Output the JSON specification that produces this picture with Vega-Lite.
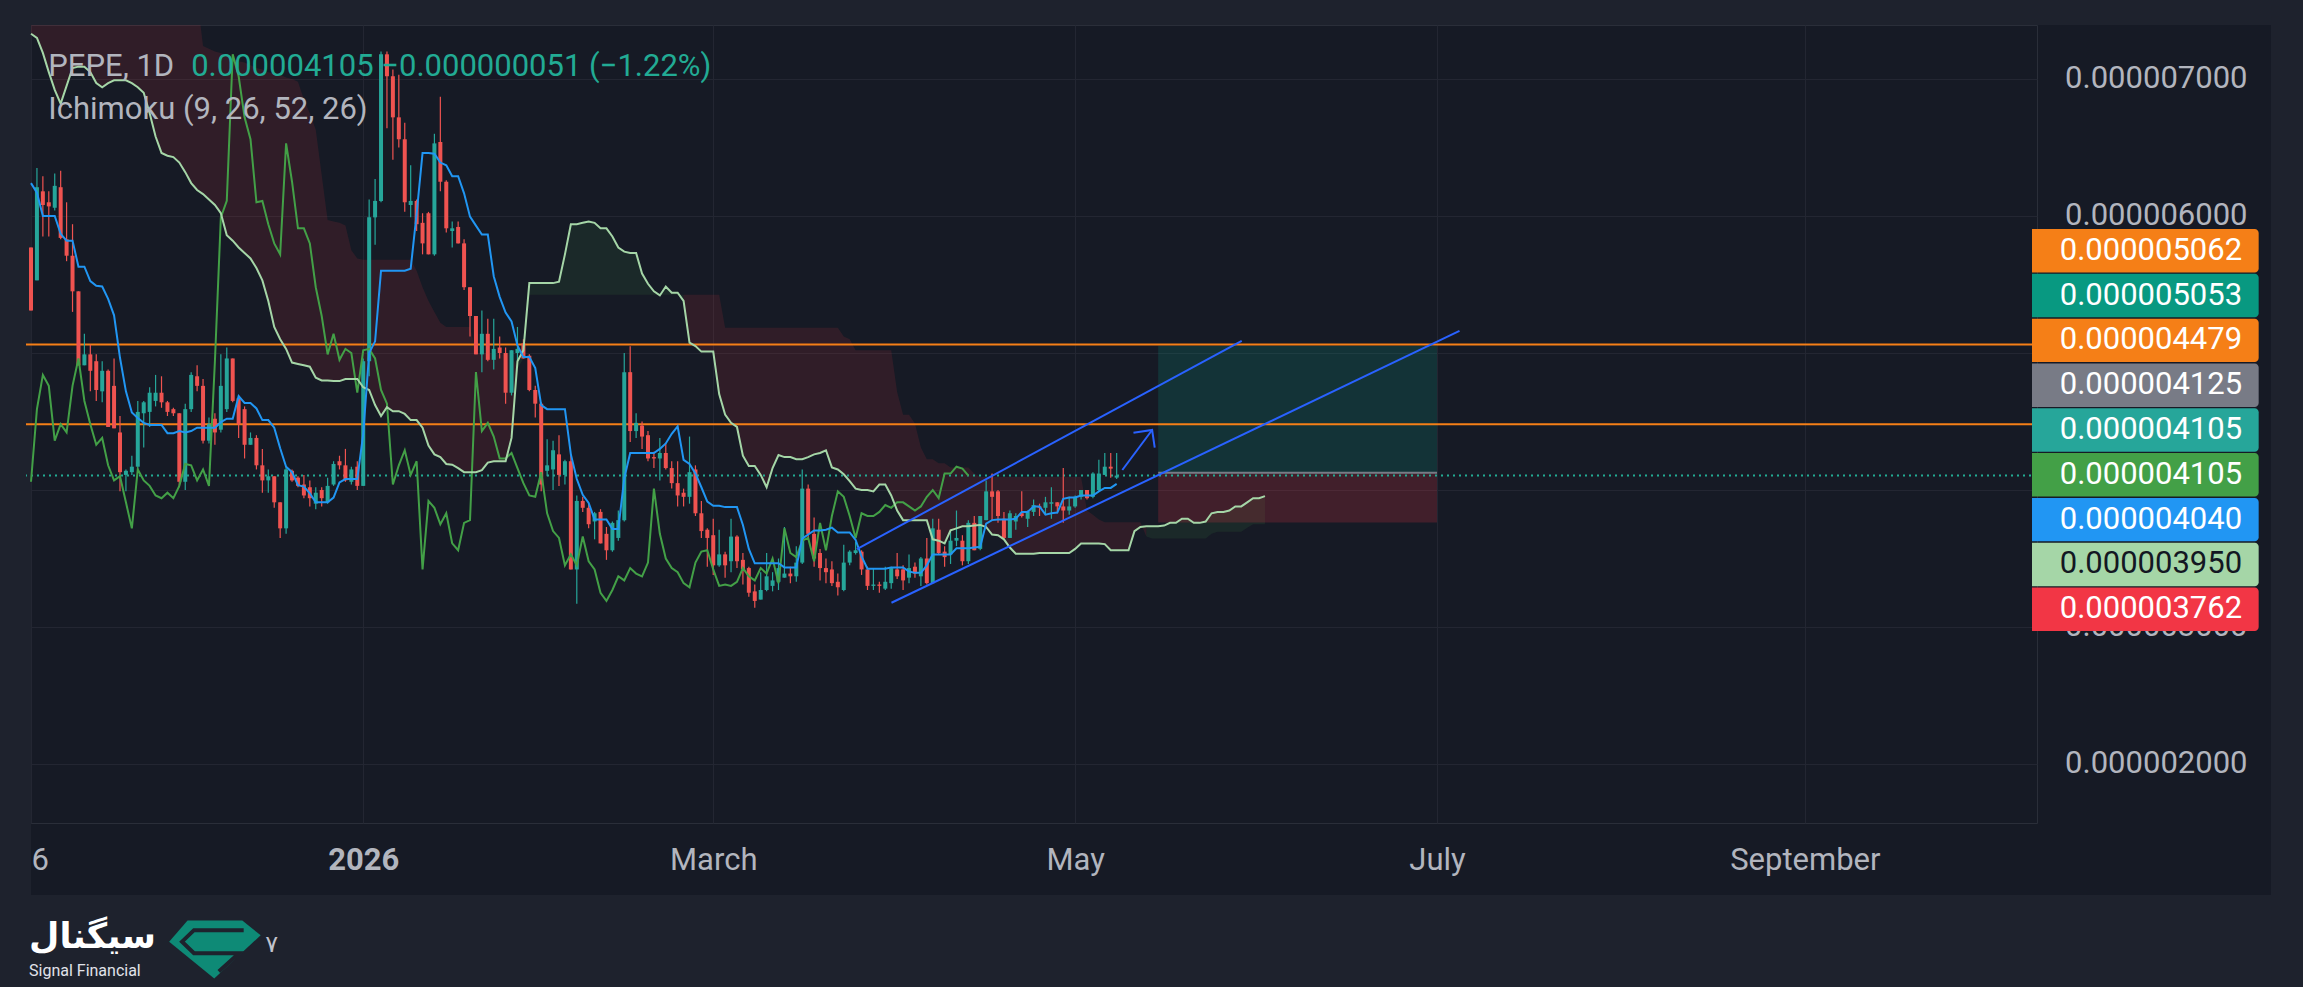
{
  "$schema": "https://vega.github.io/schema/vega-lite/v6.json",
  "width": 2011,
  "height": 798,
  "autosize": {"type": "none"},
  "padding": {"left": 26, "top": 25, "right": 266, "bottom": 164},
  "background": "#161a25",
  "config": {
    "view": {"fill": "#161a25", "stroke": "#2a2e39"},
    "font": "Roboto",
    "text": {"font": "Roboto"}
  },
  "datasets": {
    "bars": [
      {"t":"2025-11-06","o":5.77e-6,"h":5.77e-6,"l":5.31e-6,"c":5.31e-6,"k":6.24e-6,"g":4.06e-6},
      {"t":"2025-11-07","o":5.53e-6,"h":6.35e-6,"l":5.53e-6,"c":6.21e-6,"k":6.17e-6,"g":4.59e-6},
      {"t":"2025-11-08","o":6.18e-6,"h":6.29e-6,"l":5.85e-6,"c":6.08e-6,"k":6.0e-6,"g":4.84e-6},
      {"t":"2025-11-09","o":6.1e-6,"h":6.18e-6,"l":5.85e-6,"c":6.07e-6,"k":6.0e-6,"g":4.76e-6},
      {"t":"2025-11-10","o":6.06e-6,"h":6.31e-6,"l":6.04e-6,"c":6.22e-6,"k":6.0e-6,"g":4.36e-6},
      {"t":"2025-11-11","o":6.21e-6,"h":6.33e-6,"l":5.83e-6,"c":5.84e-6,"k":5.87e-6,"g":4.48e-6},
      {"t":"2025-11-12","o":5.83e-6,"h":6.1e-6,"l":5.67e-6,"c":5.71e-6,"k":5.82e-6,"g":4.42e-6},
      {"t":"2025-11-13","o":5.71e-6,"h":5.94e-6,"l":5.3e-6,"c":5.45e-6,"k":5.82e-6,"g":4.76e-6},
      {"t":"2025-11-14","o":5.45e-6,"h":5.45e-6,"l":4.91e-6,"c":4.91e-6,"k":5.63e-6,"g":4.96e-6},
      {"t":"2025-11-15","o":4.91e-6,"h":5.14e-6,"l":4.91e-6,"c":4.99e-6,"k":5.63e-6,"g":4.65e-6},
      {"t":"2025-11-16","o":4.99e-6,"h":5.06e-6,"l":4.72e-6,"c":4.87e-6,"k":5.525e-6,"g":4.48e-6},
      {"t":"2025-11-17","o":4.94e-6,"h":4.99e-6,"l":4.65e-6,"c":4.73e-6,"k":5.49e-6,"g":4.33e-6},
      {"t":"2025-11-18","o":4.72e-6,"h":4.94e-6,"l":4.64e-6,"c":4.87e-6,"k":5.485e-6,"g":4.38e-6},
      {"t":"2025-11-19","o":4.87e-6,"h":4.88e-6,"l":4.46e-6,"c":4.46e-6,"k":5.395e-6,"g":4.18e-6},
      {"t":"2025-11-20","o":4.76e-6,"h":4.96e-6,"l":4.45e-6,"c":4.45e-6,"k":5.275e-6,"g":4.07e-6},
      {"t":"2025-11-21","o":4.42e-6,"h":4.54e-6,"l":3.99e-6,"c":4.13e-6,"k":4.965e-6,"g":4.1e-6},
      {"t":"2025-11-22","o":4.11e-6,"h":4.15e-6,"l":3.99e-6,"c":4.14e-6,"k":4.72e-6,"g":3.91e-6},
      {"t":"2025-11-23","o":4.13e-6,"h":4.25e-6,"l":4.11e-6,"c":4.17e-6,"k":4.565e-6,"g":3.72e-6},
      {"t":"2025-11-24","o":4.17e-6,"h":4.65e-6,"l":4.15e-6,"c":4.57e-6,"k":4.525e-6,"g":4.15e-6},
      {"t":"2025-11-25","o":4.56e-6,"h":4.65e-6,"l":4.31e-6,"c":4.64e-6,"k":4.49e-6,"g":4.07e-6},
      {"t":"2025-11-26","o":4.57e-6,"h":4.75e-6,"l":4.46e-6,"c":4.71e-6,"k":4.475e-6,"g":4.03e-6},
      {"t":"2025-11-27","o":4.65e-6,"h":4.84e-6,"l":4.61e-6,"c":4.71e-6,"k":4.475e-6,"g":3.96e-6},
      {"t":"2025-11-28","o":4.71e-6,"h":4.83e-6,"l":4.6e-6,"c":4.64e-6,"k":4.475e-6,"g":3.94e-6},
      {"t":"2025-11-29","o":4.64e-6,"h":4.65e-6,"l":4.54e-6,"c":4.57e-6,"k":4.415e-6,"g":3.98e-6},
      {"t":"2025-11-30","o":4.59e-6,"h":4.6e-6,"l":4.54e-6,"c":4.56e-6,"k":4.415e-6,"g":3.94e-6},
      {"t":"2025-12-01","o":4.56e-6,"h":4.56e-6,"l":4.02e-6,"c":4.06e-6,"k":4.43e-6,"g":4.03e-6},
      {"t":"2025-12-02","o":4.06e-6,"h":4.63e-6,"l":4.0e-6,"c":4.59e-6,"k":4.42e-6,"g":4.19e-6},
      {"t":"2025-12-03","o":4.59e-6,"h":4.86e-6,"l":4.57e-6,"c":4.84e-6,"k":4.43e-6,"g":4.18e-6},
      {"t":"2025-12-04","o":4.83e-6,"h":4.91e-6,"l":4.72e-6,"c":4.76e-6,"k":4.455e-6,"g":4.07e-6},
      {"t":"2025-12-05","o":4.76e-6,"h":4.81e-6,"l":4.34e-6,"c":4.36e-6,"k":4.455e-6,"g":4.15e-6},
      {"t":"2025-12-06","o":4.36e-6,"h":4.53e-6,"l":4.34e-6,"c":4.48e-6,"k":4.455e-6,"g":4.03e-6},
      {"t":"2025-12-07","o":4.52e-6,"h":4.56e-6,"l":4.33e-6,"c":4.42e-6,"k":4.455e-6,"g":4.94e-6},
      {"t":"2025-12-08","o":4.44e-6,"h":4.99e-6,"l":4.42e-6,"c":4.76e-6,"k":4.495e-6,"g":5.99e-6},
      {"t":"2025-12-09","o":4.59e-6,"h":5.04e-6,"l":4.57e-6,"c":4.96e-6,"k":4.52e-6,"g":6.11e-6},
      {"t":"2025-12-10","o":4.96e-6,"h":4.96e-6,"l":4.64e-6,"c":4.65e-6,"k":4.52e-6,"g":7.18e-6},
      {"t":"2025-12-11","o":4.67e-6,"h":4.69e-6,"l":4.38e-6,"c":4.48e-6,"k":4.685e-6,"g":7.02e-6},
      {"t":"2025-12-12","o":4.59e-6,"h":4.61e-6,"l":4.23e-6,"c":4.33e-6,"k":4.635e-6,"g":6.72e-6},
      {"t":"2025-12-13","o":4.33e-6,"h":4.42e-6,"l":4.33e-6,"c":4.38e-6,"k":4.635e-6,"g":6.56e-6},
      {"t":"2025-12-14","o":4.38e-6,"h":4.4e-6,"l":4.15e-6,"c":4.18e-6,"k":4.595e-6,"g":6.1e-6},
      {"t":"2025-12-15","o":4.18e-6,"h":4.3e-6,"l":3.98e-6,"c":4.07e-6,"k":4.51e-6,"g":6.11e-6},
      {"t":"2025-12-16","o":4.07e-6,"h":4.15e-6,"l":3.98e-6,"c":4.1e-6,"k":4.51e-6,"g":5.94e-6},
      {"t":"2025-12-17","o":4.1e-6,"h":4.1e-6,"l":3.87e-6,"c":3.91e-6,"k":4.455e-6,"g":5.8e-6},
      {"t":"2025-12-18","o":3.91e-6,"h":3.91e-6,"l":3.65e-6,"c":3.72e-6,"k":4.305e-6,"g":5.72e-6},
      {"t":"2025-12-19","o":3.72e-6,"h":4.17e-6,"l":3.68e-6,"c":4.15e-6,"k":4.17e-6,"g":6.53e-6},
      {"t":"2025-12-20","o":4.14e-6,"h":4.15e-6,"l":4.06e-6,"c":4.07e-6,"k":4.13e-6,"g":6.25e-6},
      {"t":"2025-12-21","o":4.09e-6,"h":4.1e-6,"l":4.02e-6,"c":4.03e-6,"k":4.035e-6,"g":5.91e-6},
      {"t":"2025-12-22","o":4.04e-6,"h":4.11e-6,"l":3.94e-6,"c":3.96e-6,"k":4.025e-6,"g":5.91e-6},
      {"t":"2025-12-23","o":4.02e-6,"h":4.07e-6,"l":3.88e-6,"c":3.94e-6,"k":3.975e-6,"g":5.8e-6},
      {"t":"2025-12-24","o":3.9e-6,"h":4.02e-6,"l":3.86e-6,"c":3.98e-6,"k":3.91e-6,"g":5.48e-6},
      {"t":"2025-12-25","o":4.0e-6,"h":4.02e-6,"l":3.88e-6,"c":3.94e-6,"k":3.91e-6,"g":5.27e-6},
      {"t":"2025-12-26","o":3.91e-6,"h":4.09e-6,"l":3.9e-6,"c":4.03e-6,"k":3.91e-6,"g":4.99e-6},
      {"t":"2025-12-27","o":4.04e-6,"h":4.21e-6,"l":4.03e-6,"c":4.19e-6,"k":3.945e-6,"g":5.14e-6},
      {"t":"2025-12-28","o":4.21e-6,"h":4.25e-6,"l":4.15e-6,"c":4.18e-6,"k":4.055e-6,"g":4.95e-6},
      {"t":"2025-12-29","o":4.18e-6,"h":4.3e-6,"l":4.06e-6,"c":4.07e-6,"k":4.08e-6,"g":5.03e-6},
      {"t":"2025-12-30","o":4.06e-6,"h":4.17e-6,"l":4.04e-6,"c":4.15e-6,"k":4.08e-6,"g":5.0e-6},
      {"t":"2025-12-31","o":4.17e-6,"h":4.21e-6,"l":4.0e-6,"c":4.03e-6,"k":4.08e-6,"g":4.71e-6},
      {"t":"2026-01-01","o":4.03e-6,"h":4.96e-6,"l":4.03e-6,"c":4.94e-6,"k":4.41e-6,"g":5.02e-6},
      {"t":"2026-01-02","o":4.94e-6,"h":6.12e-6,"l":4.83e-6,"c":5.99e-6,"k":5.0e-6,"g":5.03e-6},
      {"t":"2026-01-03","o":5.99e-6,"h":6.27e-6,"l":5.79e-6,"c":6.11e-6,"k":5.085e-6,"g":4.96e-6},
      {"t":"2026-01-04","o":6.11e-6,"h":7.2e-6,"l":6.1e-6,"c":7.18e-6,"k":5.6e-6,"g":4.73e-6},
      {"t":"2026-01-05","o":7.18e-6,"h":7.2e-6,"l":6.64e-6,"c":7.02e-6,"k":5.6e-6,"g":4.63e-6},
      {"t":"2026-01-06","o":7.02e-6,"h":7.07e-6,"l":6.41e-6,"c":6.72e-6,"k":5.6e-6,"g":4.04e-6},
      {"t":"2026-01-07","o":6.72e-6,"h":7.03e-6,"l":6.5e-6,"c":6.56e-6,"k":5.6e-6,"g":4.18e-6},
      {"t":"2026-01-08","o":6.56e-6,"h":6.68e-6,"l":6.03e-6,"c":6.1e-6,"k":5.6e-6,"g":4.29e-6},
      {"t":"2026-01-09","o":6.08e-6,"h":6.37e-6,"l":5.99e-6,"c":6.11e-6,"k":5.615e-6,"g":4.11e-6},
      {"t":"2026-01-10","o":6.11e-6,"h":6.12e-6,"l":5.89e-6,"c":5.94e-6,"k":6.015e-6,"g":4.21e-6},
      {"t":"2026-01-11","o":5.95e-6,"h":6.02e-6,"l":5.72e-6,"c":5.8e-6,"k":6.46e-6,"g":3.42e-6},
      {"t":"2026-01-12","o":6.02e-6,"h":6.03e-6,"l":5.72e-6,"c":5.72e-6,"k":6.46e-6,"g":3.92e-6},
      {"t":"2026-01-13","o":5.72e-6,"h":6.6e-6,"l":5.71e-6,"c":6.53e-6,"k":6.455e-6,"g":3.87e-6},
      {"t":"2026-01-14","o":6.54e-6,"h":6.87e-6,"l":6.18e-6,"c":6.25e-6,"k":6.39e-6,"g":3.75e-6},
      {"t":"2026-01-15","o":6.25e-6,"h":6.26e-6,"l":5.88e-6,"c":5.91e-6,"k":6.37e-6,"g":3.83e-6},
      {"t":"2026-01-16","o":5.89e-6,"h":5.96e-6,"l":5.77e-6,"c":5.91e-6,"k":6.29e-6,"g":3.61e-6},
      {"t":"2026-01-17","o":5.92e-6,"h":5.96e-6,"l":5.8e-6,"c":5.8e-6,"k":6.29e-6,"g":3.56e-6},
      {"t":"2026-01-18","o":5.8e-6,"h":5.83e-6,"l":5.46e-6,"c":5.48e-6,"k":6.165e-6,"g":3.76e-6},
      {"t":"2026-01-19","o":5.48e-6,"h":5.48e-6,"l":5.12e-6,"c":5.27e-6,"k":5.995e-6,"g":3.78e-6},
      {"t":"2026-01-20","o":5.27e-6,"h":5.27e-6,"l":4.99e-6,"c":4.99e-6,"k":5.93e-6,"g":4.86e-6},
      {"t":"2026-01-21","o":4.99e-6,"h":5.31e-6,"l":4.86e-6,"c":5.14e-6,"k":5.865e-6,"g":4.43e-6},
      {"t":"2026-01-22","o":5.14e-6,"h":5.25e-6,"l":4.94e-6,"c":4.95e-6,"k":5.865e-6,"g":4.49e-6},
      {"t":"2026-01-23","o":4.95e-6,"h":5.25e-6,"l":4.88e-6,"c":5.03e-6,"k":5.56e-6,"g":4.39e-6},
      {"t":"2026-01-24","o":5.04e-6,"h":5.12e-6,"l":4.96e-6,"c":5.0e-6,"k":5.41e-6,"g":4.23e-6},
      {"t":"2026-01-25","o":5.0e-6,"h":5.04e-6,"l":4.63e-6,"c":4.71e-6,"k":5.295e-6,"g":4.23e-6},
      {"t":"2026-01-26","o":4.71e-6,"h":5.02e-6,"l":4.69e-6,"c":5.02e-6,"k":5.23e-6,"g":4.27e-6},
      {"t":"2026-01-27","o":5.0e-6,"h":5.19e-6,"l":4.94e-6,"c":5.03e-6,"k":5.055e-6,"g":4.16e-6},
      {"t":"2026-01-28","o":5.07e-6,"h":5.1e-6,"l":4.96e-6,"c":4.96e-6,"k":4.97e-6,"g":4.05e-6},
      {"t":"2026-01-29","o":4.98e-6,"h":4.99e-6,"l":4.72e-6,"c":4.73e-6,"k":4.97e-6,"g":3.96e-6},
      {"t":"2026-01-30","o":4.73e-6,"h":4.76e-6,"l":4.53e-6,"c":4.63e-6,"k":4.89e-6,"g":3.95e-6},
      {"t":"2026-01-31","o":4.63e-6,"h":4.64e-6,"l":3.99e-6,"c":4.04e-6,"k":4.62e-6,"g":4.13e-6},
      {"t":"2026-02-01","o":4.14e-6,"h":4.37e-6,"l":4.1e-6,"c":4.18e-6,"k":4.59e-6,"g":3.83e-6},
      {"t":"2026-02-02","o":4.15e-6,"h":4.36e-6,"l":4.0e-6,"c":4.29e-6,"k":4.59e-6,"g":3.7e-6},
      {"t":"2026-02-03","o":4.26e-6,"h":4.4e-6,"l":4.03e-6,"c":4.11e-6,"k":4.59e-6,"g":3.65e-6},
      {"t":"2026-02-04","o":4.11e-6,"h":4.22e-6,"l":4.04e-6,"c":4.21e-6,"k":4.59e-6,"g":3.45e-6},
      {"t":"2026-02-05","o":4.21e-6,"h":4.26e-6,"l":3.42e-6,"c":3.42e-6,"k":4.26e-6,"g":3.53e-6},
      {"t":"2026-02-06","o":3.42e-6,"h":3.96e-6,"l":3.17e-6,"c":3.92e-6,"k":4.08e-6,"g":3.45e-6},
      {"t":"2026-02-07","o":3.92e-6,"h":3.95e-6,"l":3.84e-6,"c":3.87e-6,"k":3.965e-6,"g":3.66e-6},
      {"t":"2026-02-08","o":3.87e-6,"h":3.9e-6,"l":3.72e-6,"c":3.75e-6,"k":3.905e-6,"g":3.48e-6},
      {"t":"2026-02-09","o":3.77e-6,"h":3.84e-6,"l":3.64e-6,"c":3.83e-6,"k":3.785e-6,"g":3.42e-6},
      {"t":"2026-02-10","o":3.84e-6,"h":3.86e-6,"l":3.61e-6,"c":3.61e-6,"k":3.785e-6,"g":3.25e-6},
      {"t":"2026-02-11","o":3.68e-6,"h":3.73e-6,"l":3.49e-6,"c":3.56e-6,"k":3.785e-6,"g":3.19e-6},
      {"t":"2026-02-12","o":3.56e-6,"h":3.77e-6,"l":3.55e-6,"c":3.76e-6,"k":3.715e-6,"g":3.27e-6},
      {"t":"2026-02-13","o":3.65e-6,"h":3.85e-6,"l":3.63e-6,"c":3.78e-6,"k":3.715e-6,"g":3.37e-6},
      {"t":"2026-02-14","o":3.78e-6,"h":5.0e-6,"l":3.77e-6,"c":4.86e-6,"k":4.085e-6,"g":3.34e-6},
      {"t":"2026-02-15","o":4.86e-6,"h":5.05e-6,"l":4.35e-6,"c":4.43e-6,"k":4.27e-6,"g":3.43e-6},
      {"t":"2026-02-16","o":4.43e-6,"h":4.56e-6,"l":4.38e-6,"c":4.49e-6,"k":4.27e-6,"g":3.39e-6},
      {"t":"2026-02-17","o":4.47e-6,"h":4.5e-6,"l":4.3e-6,"c":4.39e-6,"k":4.27e-6,"g":3.37e-6},
      {"t":"2026-02-18","o":4.4e-6,"h":4.43e-6,"l":4.21e-6,"c":4.23e-6,"k":4.27e-6,"g":3.47e-6},
      {"t":"2026-02-19","o":4.24e-6,"h":4.28e-6,"l":4.16e-6,"c":4.23e-6,"k":4.27e-6,"g":4.01e-6},
      {"t":"2026-02-20","o":4.23e-6,"h":4.38e-6,"l":4.07e-6,"c":4.27e-6,"k":4.3e-6,"g":3.68e-6},
      {"t":"2026-02-21","o":4.27e-6,"h":4.34e-6,"l":4.15e-6,"c":4.16e-6,"k":4.34e-6,"g":3.5e-6},
      {"t":"2026-02-22","o":4.16e-6,"h":4.21e-6,"l":4.01e-6,"c":4.05e-6,"k":4.41e-6,"g":3.43e-6},
      {"t":"2026-02-23","o":4.05e-6,"h":4.21e-6,"l":3.88e-6,"c":3.96e-6,"k":4.465e-6,"g":3.4e-6},
      {"t":"2026-02-24","o":3.98e-6,"h":4.01e-6,"l":3.88e-6,"c":3.95e-6,"k":4.22e-6,"g":3.32e-6},
      {"t":"2026-02-25","o":3.95e-6,"h":4.39e-6,"l":3.9e-6,"c":4.13e-6,"k":4.19e-6,"g":3.29e-6},
      {"t":"2026-02-26","o":4.15e-6,"h":4.18e-6,"l":3.81e-6,"c":3.83e-6,"k":4.12e-6,"g":3.47e-6},
      {"t":"2026-02-27","o":3.83e-6,"h":3.92e-6,"l":3.65e-6,"c":3.7e-6,"k":4.02e-6,"g":3.55e-6},
      {"t":"2026-02-28","o":3.71e-6,"h":3.72e-6,"l":3.44e-6,"c":3.65e-6,"k":3.915e-6,"g":3.56e-6},
      {"t":"2026-03-01","o":3.67e-6,"h":3.79e-6,"l":3.38e-6,"c":3.45e-6,"k":3.885e-6,"g":3.42e-6},
      {"t":"2026-03-02","o":3.45e-6,"h":3.71e-6,"l":3.44e-6,"c":3.53e-6,"k":3.885e-6,"g":3.3e-6},
      {"t":"2026-03-03","o":3.53e-6,"h":3.55e-6,"l":3.36e-6,"c":3.45e-6,"k":3.875e-6,"g":3.31e-6},
      {"t":"2026-03-04","o":3.48e-6,"h":3.79e-6,"l":3.4e-6,"c":3.66e-6,"k":3.875e-6,"g":3.3e-6},
      {"t":"2026-03-05","o":3.66e-6,"h":3.67e-6,"l":3.43e-6,"c":3.48e-6,"k":3.875e-6,"g":3.33e-6},
      {"t":"2026-03-06","o":3.49e-6,"h":3.54e-6,"l":3.31e-6,"c":3.42e-6,"k":3.745e-6,"g":3.43e-6},
      {"t":"2026-03-07","o":3.43e-6,"h":3.44e-6,"l":3.22e-6,"c":3.25e-6,"k":3.57e-6,"g":3.37e-6},
      {"t":"2026-03-08","o":3.26e-6,"h":3.31e-6,"l":3.14e-6,"c":3.19e-6,"k":3.465e-6,"g":3.34e-6},
      {"t":"2026-03-09","o":3.2e-6,"h":3.4e-6,"l":3.2e-6,"c":3.27e-6,"k":3.465e-6,"g":3.43e-6},
      {"t":"2026-03-10","o":3.27e-6,"h":3.54e-6,"l":3.26e-6,"c":3.37e-6,"k":3.465e-6,"g":3.39e-6},
      {"t":"2026-03-11","o":3.3e-6,"h":3.4e-6,"l":3.26e-6,"c":3.34e-6,"k":3.465e-6,"g":3.5e-6},
      {"t":"2026-03-12","o":3.33e-6,"h":3.5e-6,"l":3.27e-6,"c":3.43e-6,"k":3.465e-6,"g":3.32e-6},
      {"t":"2026-03-13","o":3.36e-6,"h":3.73e-6,"l":3.36e-6,"c":3.39e-6,"k":3.435e-6,"g":3.72e-6},
      {"t":"2026-03-14","o":3.39e-6,"h":3.44e-6,"l":3.32e-6,"c":3.37e-6,"k":3.435e-6,"g":3.54e-6},
      {"t":"2026-03-15","o":3.37e-6,"h":3.59e-6,"l":3.33e-6,"c":3.47e-6,"k":3.435e-6,"g":3.51e-6},
      {"t":"2026-03-16","o":3.47e-6,"h":4.15e-6,"l":3.46e-6,"c":4.01e-6,"k":3.645e-6,"g":3.63e-6},
      {"t":"2026-03-17","o":4.01e-6,"h":4.04e-6,"l":3.65e-6,"c":3.68e-6,"k":3.675e-6,"g":3.65e-6},
      {"t":"2026-03-18","o":3.68e-6,"h":3.8e-6,"l":3.44e-6,"c":3.5e-6,"k":3.705e-6,"g":3.48e-6},
      {"t":"2026-03-19","o":3.54e-6,"h":3.57e-6,"l":3.34e-6,"c":3.43e-6,"k":3.705e-6,"g":3.76e-6},
      {"t":"2026-03-20","o":3.43e-6,"h":3.5e-6,"l":3.32e-6,"c":3.4e-6,"k":3.71e-6,"g":3.56e-6},
      {"t":"2026-03-21","o":3.42e-6,"h":3.48e-6,"l":3.3e-6,"c":3.32e-6,"k":3.725e-6,"g":3.81e-6},
      {"t":"2026-03-22","o":3.33e-6,"h":3.39e-6,"l":3.23e-6,"c":3.29e-6,"k":3.69e-6,"g":3.99e-6},
      {"t":"2026-03-23","o":3.27e-6,"h":3.6e-6,"l":3.26e-6,"c":3.47e-6,"k":3.69e-6,"g":3.95e-6},
      {"t":"2026-03-24","o":3.47e-6,"h":3.56e-6,"l":3.45e-6,"c":3.55e-6,"k":3.69e-6,"g":3.81e-6},
      {"t":"2026-03-25","o":3.54e-6,"h":3.62e-6,"l":3.53e-6,"c":3.56e-6,"k":3.635e-6,"g":3.65e-6},
      {"t":"2026-03-26","o":3.55e-6,"h":3.56e-6,"l":3.38e-6,"c":3.42e-6,"k":3.515e-6,"g":3.83e-6},
      {"t":"2026-03-27","o":3.42e-6,"h":3.44e-6,"l":3.27e-6,"c":3.3e-6,"k":3.425e-6,"g":3.81e-6},
      {"t":"2026-03-28","o":3.3e-6,"h":3.43e-6,"l":3.27e-6,"c":3.31e-6,"k":3.425e-6,"g":3.81e-6},
      {"t":"2026-03-29","o":3.31e-6,"h":3.33e-6,"l":3.25e-6,"c":3.3e-6,"k":3.425e-6,"g":3.84e-6},
      {"t":"2026-03-30","o":3.28e-6,"h":3.44e-6,"l":3.27e-6,"c":3.33e-6,"k":3.425e-6,"g":3.89e-6},
      {"t":"2026-03-31","o":3.32e-6,"h":3.44e-6,"l":3.28e-6,"c":3.43e-6,"k":3.435e-6,"g":3.87e-6},
      {"t":"2026-04-01","o":3.42e-6,"h":3.54e-6,"l":3.35e-6,"c":3.37e-6,"k":3.435e-6,"g":3.91e-6},
      {"t":"2026-04-02","o":3.42e-6,"h":3.45e-6,"l":3.27e-6,"c":3.34e-6,"k":3.435e-6,"g":3.91e-6},
      {"t":"2026-04-03","o":3.36e-6,"h":3.53e-6,"l":3.32e-6,"c":3.43e-6,"k":3.405e-6,"g":3.88e-6},
      {"t":"2026-04-04","o":3.44e-6,"h":3.47e-6,"l":3.36e-6,"c":3.39e-6,"k":3.395e-6,"g":3.85e-6},
      {"t":"2026-04-05","o":3.37e-6,"h":3.51e-6,"l":3.3e-6,"c":3.5e-6,"k":3.395e-6,"g":3.88e-6},
      {"t":"2026-04-06","o":3.5e-6,"h":3.65e-6,"l":3.31e-6,"c":3.32e-6,"k":3.45e-6,"g":3.95e-6},
      {"t":"2026-04-07","o":3.32e-6,"h":3.79e-6,"l":3.32e-6,"c":3.72e-6,"k":3.53e-6,"g":4.0e-6},
      {"t":"2026-04-08","o":3.71e-6,"h":3.79e-6,"l":3.53e-6,"c":3.54e-6,"k":3.53e-6,"g":3.94e-6},
      {"t":"2026-04-09","o":3.55e-6,"h":3.59e-6,"l":3.44e-6,"c":3.51e-6,"k":3.53e-6,"g":4.12e-6},
      {"t":"2026-04-10","o":3.53e-6,"h":3.71e-6,"l":3.46e-6,"c":3.63e-6,"k":3.53e-6,"g":4.12e-6},
      {"t":"2026-04-11","o":3.63e-6,"h":3.85e-6,"l":3.59e-6,"c":3.65e-6,"k":3.575e-6,"g":4.17e-6},
      {"t":"2026-04-12","o":3.63e-6,"h":3.67e-6,"l":3.45e-6,"c":3.48e-6,"k":3.575e-6,"g":4.156e-6},
      {"t":"2026-04-13","o":3.48e-6,"h":3.78e-6,"l":3.46e-6,"c":3.76e-6,"k":3.575e-6,"g":4.105e-6},
      {"t":"2026-04-14","o":3.76e-6,"h":3.81e-6,"l":3.56e-6,"c":3.56e-6,"k":3.58e-6},
      {"t":"2026-04-15","o":3.57e-6,"h":3.81e-6,"l":3.56e-6,"c":3.81e-6,"k":3.585e-6},
      {"t":"2026-04-16","o":3.78e-6,"h":4.07e-6,"l":3.78e-6,"c":3.99e-6,"k":3.755e-6},
      {"t":"2026-04-17","o":3.99e-6,"h":4.12e-6,"l":3.78e-6,"c":3.95e-6,"k":3.78e-6},
      {"t":"2026-04-18","o":3.99e-6,"h":4.0e-6,"l":3.76e-6,"c":3.81e-6,"k":3.785e-6},
      {"t":"2026-04-19","o":3.79e-6,"h":3.84e-6,"l":3.64e-6,"c":3.65e-6,"k":3.785e-6},
      {"t":"2026-04-20","o":3.65e-6,"h":3.85e-6,"l":3.65e-6,"c":3.83e-6,"k":3.785e-6},
      {"t":"2026-04-21","o":3.77e-6,"h":3.83e-6,"l":3.71e-6,"c":3.81e-6,"k":3.79e-6},
      {"t":"2026-04-22","o":3.83e-6,"h":3.99e-6,"l":3.8e-6,"c":3.81e-6,"k":3.84e-6},
      {"t":"2026-04-23","o":3.79e-6,"h":3.85e-6,"l":3.73e-6,"c":3.84e-6,"k":3.84e-6},
      {"t":"2026-04-24","o":3.84e-6,"h":3.93e-6,"l":3.81e-6,"c":3.89e-6,"k":3.88e-6},
      {"t":"2026-04-25","o":3.88e-6,"h":3.9e-6,"l":3.81e-6,"c":3.87e-6,"k":3.88e-6},
      {"t":"2026-04-26","o":3.87e-6,"h":3.95e-6,"l":3.82e-6,"c":3.91e-6,"k":3.82e-6},
      {"t":"2026-04-27","o":3.9e-6,"h":4.02e-6,"l":3.79e-6,"c":3.91e-6,"k":3.83e-6},
      {"t":"2026-04-28","o":3.91e-6,"h":3.91e-6,"l":3.83e-6,"c":3.88e-6,"k":3.835e-6},
      {"t":"2026-04-29","o":3.88e-6,"h":4.16e-6,"l":3.76e-6,"c":3.85e-6,"k":3.935e-6},
      {"t":"2026-04-30","o":3.85e-6,"h":3.95e-6,"l":3.82e-6,"c":3.88e-6,"k":3.945e-6},
      {"t":"2026-05-01","o":3.88e-6,"h":3.96e-6,"l":3.87e-6,"c":3.95e-6,"k":3.945e-6},
      {"t":"2026-05-02","o":3.95e-6,"h":4.0e-6,"l":3.93e-6,"c":4.0e-6,"k":3.96e-6},
      {"t":"2026-05-03","o":4.0e-6,"h":4.0e-6,"l":3.93e-6,"c":3.94e-6,"k":3.96e-6},
      {"t":"2026-05-04","o":3.95e-6,"h":4.13e-6,"l":3.94e-6,"c":4.12e-6,"k":3.96e-6},
      {"t":"2026-05-05","o":4.0e-6,"h":4.22e-6,"l":3.99e-6,"c":4.12e-6,"k":3.99e-6},
      {"t":"2026-05-06","o":4.11e-6,"h":4.27e-6,"l":4.11e-6,"c":4.17e-6,"k":4.015e-6},
      {"t":"2026-05-07","o":4.17e-6,"h":4.27e-6,"l":4.09e-6,"c":4.156e-6,"k":4.015e-6},
      {"t":"2026-05-08","o":4.09e-6,"h":4.27e-6,"l":4.08e-6,"c":4.105e-6,"k":4.045e-6}
    ],
    "cloud": [
      {"t":"2025-11-06","a":7.33e-6,"b":7.6e-6,"s":"r1"},
      {"t":"2025-11-07","a":7.3e-6,"b":7.6e-6,"s":"r1"},
      {"t":"2025-11-08","a":7.19e-6,"b":7.6e-6,"s":"r1"},
      {"t":"2025-11-09","a":7.05e-6,"b":7.6e-6,"s":"r1"},
      {"t":"2025-11-10","a":6.92e-6,"b":7.6e-6,"s":"r1"},
      {"t":"2025-11-11","a":6.82e-6,"b":7.6e-6,"s":"r1"},
      {"t":"2025-11-12","a":6.95e-6,"b":7.6e-6,"s":"r1"},
      {"t":"2025-11-13","a":7.08e-6,"b":7.6e-6,"s":"r1"},
      {"t":"2025-11-14","a":7.09e-6,"b":7.6e-6,"s":"r1"},
      {"t":"2025-11-15","a":7.09e-6,"b":7.6e-6,"s":"r1"},
      {"t":"2025-11-16","a":7.05e-6,"b":7.6e-6,"s":"r1"},
      {"t":"2025-11-17","a":6.97e-6,"b":7.6e-6,"s":"r1"},
      {"t":"2025-11-18","a":6.94e-6,"b":7.6e-6,"s":"r1"},
      {"t":"2025-11-19","a":6.97e-6,"b":7.6e-6,"s":"r1"},
      {"t":"2025-11-20","a":6.99e-6,"b":7.6e-6,"s":"r1"},
      {"t":"2025-11-21","a":6.99e-6,"b":7.6e-6,"s":"r1"},
      {"t":"2025-11-22","a":6.99e-6,"b":7.6e-6,"s":"r1"},
      {"t":"2025-11-23","a":6.97e-6,"b":7.6e-6,"s":"r1"},
      {"t":"2025-11-24","a":6.94e-6,"b":7.6e-6,"s":"r1"},
      {"t":"2025-11-25","a":6.9e-6,"b":7.6e-6,"s":"r1"},
      {"t":"2025-11-26","a":6.75e-6,"b":7.6e-6,"s":"r1"},
      {"t":"2025-11-27","a":6.58e-6,"b":7.6e-6,"s":"r1"},
      {"t":"2025-11-28","a":6.46e-6,"b":7.6e-6,"s":"r1"},
      {"t":"2025-11-29","a":6.44e-6,"b":7.6e-6,"s":"r1"},
      {"t":"2025-11-30","a":6.43e-6,"b":7.6e-6,"s":"r1"},
      {"t":"2025-12-01","a":6.39e-6,"b":7.6e-6,"s":"r1"},
      {"t":"2025-12-02","a":6.32e-6,"b":7.6e-6,"s":"r1"},
      {"t":"2025-12-03","a":6.24e-6,"b":7.6e-6,"s":"r1"},
      {"t":"2025-12-04","a":6.19e-6,"b":7.6e-6,"s":"r1"},
      {"t":"2025-12-05","a":6.16e-6,"b":7.24e-6,"s":"r1"},
      {"t":"2025-12-06","a":6.12e-6,"b":7.22e-6,"s":"r1"},
      {"t":"2025-12-07","a":6.08e-6,"b":7.2e-6,"s":"r1"},
      {"t":"2025-12-08","a":6.02e-6,"b":7.19e-6,"s":"r1"},
      {"t":"2025-12-09","a":5.86e-6,"b":7.17e-6,"s":"r1"},
      {"t":"2025-12-10","a":5.82e-6,"b":7.15e-6,"s":"r1"},
      {"t":"2025-12-11","a":5.77e-6,"b":7.13e-6,"s":"r1"},
      {"t":"2025-12-12","a":5.73e-6,"b":7.12e-6,"s":"r1"},
      {"t":"2025-12-13","a":5.69e-6,"b":7.1e-6,"s":"r1"},
      {"t":"2025-12-14","a":5.62e-6,"b":7.08e-6,"s":"r1"},
      {"t":"2025-12-15","a":5.53e-6,"b":7.07e-6,"s":"r1"},
      {"t":"2025-12-16","a":5.38e-6,"b":7.05e-6,"s":"r1"},
      {"t":"2025-12-17","a":5.19e-6,"b":7.04e-6,"s":"r1"},
      {"t":"2025-12-18","a":5.1e-6,"b":7.03e-6,"s":"r1"},
      {"t":"2025-12-19","a":5.03e-6,"b":7.01e-6,"s":"r1"},
      {"t":"2025-12-20","a":4.93e-6,"b":7.0e-6,"s":"r1"},
      {"t":"2025-12-21","a":4.92e-6,"b":6.98e-6,"s":"r1"},
      {"t":"2025-12-22","a":4.91e-6,"b":6.85e-6,"s":"r1"},
      {"t":"2025-12-23","a":4.9e-6,"b":6.75e-6,"s":"r1"},
      {"t":"2025-12-24","a":4.82e-6,"b":6.63e-6,"s":"r1"},
      {"t":"2025-12-25","a":4.8e-6,"b":6.3e-6,"s":"r1"},
      {"t":"2025-12-26","a":4.8e-6,"b":5.97e-6,"s":"r1"},
      {"t":"2025-12-27","a":4.795e-6,"b":5.96e-6,"s":"r1"},
      {"t":"2025-12-28","a":4.795e-6,"b":5.95e-6,"s":"r1"},
      {"t":"2025-12-29","a":4.81e-6,"b":5.93e-6,"s":"r1"},
      {"t":"2025-12-30","a":4.81e-6,"b":5.75e-6,"s":"r1"},
      {"t":"2025-12-31","a":4.81e-6,"b":5.69e-6,"s":"r1"},
      {"t":"2026-01-01","a":4.75e-6,"b":5.68e-6,"s":"r1"},
      {"t":"2026-01-02","a":4.73e-6,"b":5.68e-6,"s":"r1"},
      {"t":"2026-01-03","a":4.62e-6,"b":5.68e-6,"s":"r1"},
      {"t":"2026-01-04","a":4.54e-6,"b":5.68e-6,"s":"r1"},
      {"t":"2026-01-05","a":4.605e-6,"b":5.68e-6,"s":"r1"},
      {"t":"2026-01-06","a":4.575e-6,"b":5.68e-6,"s":"r1"},
      {"t":"2026-01-07","a":4.575e-6,"b":5.68e-6,"s":"r1"},
      {"t":"2026-01-08","a":4.555e-6,"b":5.68e-6,"s":"r1"},
      {"t":"2026-01-09","a":4.51e-6,"b":5.68e-6,"s":"r1"},
      {"t":"2026-01-10","a":4.51e-6,"b":5.6e-6,"s":"r1"},
      {"t":"2026-01-11","a":4.455e-6,"b":5.48e-6,"s":"r1"},
      {"t":"2026-01-12","a":4.325e-6,"b":5.38e-6,"s":"r1"},
      {"t":"2026-01-13","a":4.26e-6,"b":5.3e-6,"s":"r1"},
      {"t":"2026-01-14","a":4.24e-6,"b":5.22e-6,"s":"r1"},
      {"t":"2026-01-15","a":4.19e-6,"b":5.19e-6,"s":"r1"},
      {"t":"2026-01-16","a":4.185e-6,"b":5.19e-6,"s":"r1"},
      {"t":"2026-01-17","a":4.16e-6,"b":5.19e-6,"s":"r1"},
      {"t":"2026-01-18","a":4.13e-6,"b":5.19e-6,"s":"r1"},
      {"t":"2026-01-19","a":4.13e-6,"b":5.19e-6,"s":"r1"},
      {"t":"2026-01-20","a":4.13e-6,"b":5.0e-6,"s":"r1"},
      {"t":"2026-01-21","a":4.145e-6,"b":5.0e-6,"s":"r1"},
      {"t":"2026-01-22","a":4.2e-6,"b":5.0e-6,"s":"r1"},
      {"t":"2026-01-23","a":4.21e-6,"b":4.99e-6,"s":"r1"},
      {"t":"2026-01-24","a":4.21e-6,"b":4.99e-6,"s":"r1"},
      {"t":"2026-01-25","a":4.21e-6,"b":4.99e-6,"s":"r1"},
      {"t":"2026-01-26","a":4.38e-6,"b":4.99e-6,"s":"r1"},
      {"t":"2026-01-27","a":4.94e-6,"b":4.885e-6,"s":"r1"},
      {"t":"2026-01-27","a":4.94e-6,"b":4.885e-6,"s":"g1"},
      {"t":"2026-01-28","a":5.02e-6,"b":4.96e-6,"s":"g1"},
      {"t":"2026-01-29","a":5.51e-6,"b":5.425e-6,"s":"g1"},
      {"t":"2026-01-30","a":5.51e-6,"b":5.425e-6,"s":"g1"},
      {"t":"2026-01-31","a":5.51e-6,"b":5.425e-6,"s":"g1"},
      {"t":"2026-02-01","a":5.51e-6,"b":5.425e-6,"s":"g1"},
      {"t":"2026-02-02","a":5.51e-6,"b":5.425e-6,"s":"g1"},
      {"t":"2026-02-03","a":5.52e-6,"b":5.425e-6,"s":"g1"},
      {"t":"2026-02-04","a":5.72e-6,"b":5.425e-6,"s":"g1"},
      {"t":"2026-02-05","a":5.94e-6,"b":5.425e-6,"s":"g1"},
      {"t":"2026-02-06","a":5.94e-6,"b":5.425e-6,"s":"g1"},
      {"t":"2026-02-07","a":5.95e-6,"b":5.425e-6,"s":"g1"},
      {"t":"2026-02-08","a":5.96e-6,"b":5.425e-6,"s":"g1"},
      {"t":"2026-02-09","a":5.95e-6,"b":5.425e-6,"s":"g1"},
      {"t":"2026-02-10","a":5.91e-6,"b":5.425e-6,"s":"g1"},
      {"t":"2026-02-11","a":5.91e-6,"b":5.425e-6,"s":"g1"},
      {"t":"2026-02-12","a":5.85e-6,"b":5.425e-6,"s":"g1"},
      {"t":"2026-02-13","a":5.77e-6,"b":5.425e-6,"s":"g1"},
      {"t":"2026-02-14","a":5.74e-6,"b":5.425e-6,"s":"g1"},
      {"t":"2026-02-15","a":5.73e-6,"b":5.425e-6,"s":"g1"},
      {"t":"2026-02-16","a":5.73e-6,"b":5.425e-6,"s":"g1"},
      {"t":"2026-02-17","a":5.58e-6,"b":5.425e-6,"s":"g1"},
      {"t":"2026-02-18","a":5.505e-6,"b":5.425e-6,"s":"g1"},
      {"t":"2026-02-19","a":5.45e-6,"b":5.425e-6,"s":"g1"},
      {"t":"2026-02-20","a":5.42e-6,"b":5.425e-6,"s":"g1"},
      {"t":"2026-02-21","a":5.485e-6,"b":5.425e-6,"s":"g1"},
      {"t":"2026-02-22","a":5.44e-6,"b":5.425e-6,"s":"g1"},
      {"t":"2026-02-23","a":5.44e-6,"b":5.425e-6,"s":"g1"},
      {"t":"2026-02-24","a":5.38e-6,"b":5.425e-6,"s":"g1"},
      {"t":"2026-02-24","a":5.38e-6,"b":5.425e-6,"s":"r2"},
      {"t":"2026-02-25","a":5.075e-6,"b":5.425e-6,"s":"r2"},
      {"t":"2026-02-26","a":5.05e-6,"b":5.425e-6,"s":"r2"},
      {"t":"2026-02-27","a":5.01e-6,"b":5.425e-6,"s":"r2"},
      {"t":"2026-02-28","a":5.01e-6,"b":5.425e-6,"s":"r2"},
      {"t":"2026-03-01","a":5.01e-6,"b":5.425e-6,"s":"r2"},
      {"t":"2026-03-02","a":4.7e-6,"b":5.425e-6,"s":"r2"},
      {"t":"2026-03-03","a":4.55e-6,"b":5.185e-6,"s":"r2"},
      {"t":"2026-03-04","a":4.49e-6,"b":5.185e-6,"s":"r2"},
      {"t":"2026-03-05","a":4.46e-6,"b":5.185e-6,"s":"r2"},
      {"t":"2026-03-06","a":4.25e-6,"b":5.185e-6,"s":"r2"},
      {"t":"2026-03-07","a":4.175e-6,"b":5.185e-6,"s":"r2"},
      {"t":"2026-03-08","a":4.175e-6,"b":5.185e-6,"s":"r2"},
      {"t":"2026-03-09","a":4.11e-6,"b":5.185e-6,"s":"r2"},
      {"t":"2026-03-10","a":4.02e-6,"b":5.185e-6,"s":"r2"},
      {"t":"2026-03-11","a":4.16e-6,"b":5.185e-6,"s":"r2"},
      {"t":"2026-03-12","a":4.255e-6,"b":5.185e-6,"s":"r2"},
      {"t":"2026-03-13","a":4.24e-6,"b":5.185e-6,"s":"r2"},
      {"t":"2026-03-14","a":4.24e-6,"b":5.185e-6,"s":"r2"},
      {"t":"2026-03-15","a":4.225e-6,"b":5.185e-6,"s":"r2"},
      {"t":"2026-03-16","a":4.225e-6,"b":5.185e-6,"s":"r2"},
      {"t":"2026-03-17","a":4.24e-6,"b":5.185e-6,"s":"r2"},
      {"t":"2026-03-18","a":4.26e-6,"b":5.185e-6,"s":"r2"},
      {"t":"2026-03-19","a":4.27e-6,"b":5.185e-6,"s":"r2"},
      {"t":"2026-03-20","a":4.29e-6,"b":5.185e-6,"s":"r2"},
      {"t":"2026-03-21","a":4.165e-6,"b":5.185e-6,"s":"r2"},
      {"t":"2026-03-22","a":4.15e-6,"b":5.185e-6,"s":"r2"},
      {"t":"2026-03-23","a":4.115e-6,"b":5.12e-6,"s":"r2"},
      {"t":"2026-03-24","a":4.065e-6,"b":5.1e-6,"s":"r2"},
      {"t":"2026-03-25","a":4.01e-6,"b":5.02e-6,"s":"r2"},
      {"t":"2026-03-26","a":4.0e-6,"b":5.02e-6,"s":"r2"},
      {"t":"2026-03-27","a":4.0e-6,"b":5.02e-6,"s":"r2"},
      {"t":"2026-03-28","a":3.99e-6,"b":5.02e-6,"s":"r2"},
      {"t":"2026-03-29","a":4.04e-6,"b":5.02e-6,"s":"r2"},
      {"t":"2026-03-30","a":4.04e-6,"b":5.02e-6,"s":"r2"},
      {"t":"2026-03-31","a":3.96e-6,"b":5.02e-6,"s":"r2"},
      {"t":"2026-04-01","a":3.85e-6,"b":4.715e-6,"s":"r2"},
      {"t":"2026-04-02","a":3.78e-6,"b":4.55e-6,"s":"r2"},
      {"t":"2026-04-03","a":3.78e-6,"b":4.55e-6,"s":"r2"},
      {"t":"2026-04-04","a":3.78e-6,"b":4.485e-6,"s":"r2"},
      {"t":"2026-04-05","a":3.78e-6,"b":4.31e-6,"s":"r2"},
      {"t":"2026-04-06","a":3.78e-6,"b":4.225e-6,"s":"r2"},
      {"t":"2026-04-07","a":3.64e-6,"b":4.225e-6,"s":"r2"},
      {"t":"2026-04-08","a":3.63e-6,"b":4.195e-6,"s":"r2"},
      {"t":"2026-04-09","a":3.61e-6,"b":4.195e-6,"s":"r2"},
      {"t":"2026-04-10","a":3.705e-6,"b":4.165e-6,"s":"r2"},
      {"t":"2026-04-11","a":3.72e-6,"b":4.165e-6,"s":"r2"},
      {"t":"2026-04-12","a":3.735e-6,"b":4.165e-6,"s":"r2"},
      {"t":"2026-04-13","a":3.735e-6,"b":4.165e-6,"s":"r2"},
      {"t":"2026-04-14","a":3.74e-6,"b":4.12e-6,"s":"r2"},
      {"t":"2026-04-15","a":3.745e-6,"b":4.095e-6,"s":"r2"},
      {"t":"2026-04-16","a":3.73e-6,"b":4.095e-6,"s":"r2"},
      {"t":"2026-04-17","a":3.675e-6,"b":4.095e-6,"s":"r2"},
      {"t":"2026-04-18","a":3.67e-6,"b":4.095e-6,"s":"r2"},
      {"t":"2026-04-19","a":3.64e-6,"b":4.095e-6,"s":"r2"},
      {"t":"2026-04-20","a":3.58e-6,"b":4.095e-6,"s":"r2"},
      {"t":"2026-04-21","a":3.535e-6,"b":4.095e-6,"s":"r2"},
      {"t":"2026-04-22","a":3.535e-6,"b":4.095e-6,"s":"r2"},
      {"t":"2026-04-23","a":3.535e-6,"b":4.095e-6,"s":"r2"},
      {"t":"2026-04-24","a":3.535e-6,"b":4.095e-6,"s":"r2"},
      {"t":"2026-04-25","a":3.54e-6,"b":4.095e-6,"s":"r2"},
      {"t":"2026-04-26","a":3.54e-6,"b":4.095e-6,"s":"r2"},
      {"t":"2026-04-27","a":3.54e-6,"b":4.095e-6,"s":"r2"},
      {"t":"2026-04-28","a":3.54e-6,"b":4.095e-6,"s":"r2"},
      {"t":"2026-04-29","a":3.54e-6,"b":4.095e-6,"s":"r2"},
      {"t":"2026-04-30","a":3.54e-6,"b":4.095e-6,"s":"r2"},
      {"t":"2026-05-01","a":3.57e-6,"b":4.095e-6,"s":"r2"},
      {"t":"2026-05-02","a":3.61e-6,"b":4.095e-6,"s":"r2"},
      {"t":"2026-05-03","a":3.61e-6,"b":3.85e-6,"s":"r2"},
      {"t":"2026-05-04","a":3.61e-6,"b":3.82e-6,"s":"r2"},
      {"t":"2026-05-05","a":3.61e-6,"b":3.785e-6,"s":"r2"},
      {"t":"2026-05-06","a":3.605e-6,"b":3.765e-6,"s":"r2"},
      {"t":"2026-05-07","a":3.56e-6,"b":3.765e-6,"s":"r2"},
      {"t":"2026-05-08","a":3.56e-6,"b":3.765e-6,"s":"r2"},
      {"t":"2026-05-09","a":3.56e-6,"b":3.765e-6,"s":"r2"},
      {"t":"2026-05-10","a":3.56e-6,"b":3.765e-6,"s":"r2"},
      {"t":"2026-05-11","a":3.7e-6,"b":3.765e-6,"s":"r2"},
      {"t":"2026-05-12","a":3.73e-6,"b":3.765e-6,"s":"r2"},
      {"t":"2026-05-13","a":3.735e-6,"b":3.66e-6,"s":"r2"},
      {"t":"2026-05-13","a":3.735e-6,"b":3.66e-6,"s":"g2"},
      {"t":"2026-05-14","a":3.735e-6,"b":3.645e-6,"s":"g2"},
      {"t":"2026-05-15","a":3.735e-6,"b":3.645e-6,"s":"g2"},
      {"t":"2026-05-16","a":3.74e-6,"b":3.645e-6,"s":"g2"},
      {"t":"2026-05-17","a":3.76e-6,"b":3.645e-6,"s":"g2"},
      {"t":"2026-05-18","a":3.76e-6,"b":3.645e-6,"s":"g2"},
      {"t":"2026-05-19","a":3.79e-6,"b":3.645e-6,"s":"g2"},
      {"t":"2026-05-20","a":3.79e-6,"b":3.645e-6,"s":"g2"},
      {"t":"2026-05-21","a":3.76e-6,"b":3.645e-6,"s":"g2"},
      {"t":"2026-05-22","a":3.76e-6,"b":3.645e-6,"s":"g2"},
      {"t":"2026-05-23","a":3.77e-6,"b":3.645e-6,"s":"g2"},
      {"t":"2026-05-24","a":3.83e-6,"b":3.68e-6,"s":"g2"},
      {"t":"2026-05-25","a":3.84e-6,"b":3.695e-6,"s":"g2"},
      {"t":"2026-05-26","a":3.84e-6,"b":3.695e-6,"s":"g2"},
      {"t":"2026-05-27","a":3.85e-6,"b":3.695e-6,"s":"g2"},
      {"t":"2026-05-28","a":3.88e-6,"b":3.695e-6,"s":"g2"},
      {"t":"2026-05-29","a":3.88e-6,"b":3.695e-6,"s":"g2"},
      {"t":"2026-05-30","a":3.91e-6,"b":3.725e-6,"s":"g2"},
      {"t":"2026-05-31","a":3.94e-6,"b":3.75e-6,"s":"g2"},
      {"t":"2026-06-01","a":3.94e-6,"b":3.75e-6,"s":"g2"},
      {"t":"2026-06-02","a":3.955e-6,"b":3.75e-6,"s":"g2"}
    ],
    "levels": [{"v": 5.062e-6}, {"v": 4.479e-6}],
    "last": [{"v": 4.105e-6}],
    "position": [{"from": "2026-05-15", "to": "2026-07-01", "entry": 4.125e-6, "target": 5.053e-6, "stop": 3.762e-6}],
    "drawings": [
      {"id": "upper", "ord": 1, "t": "2026-03-25T05:00:00Z", "v": 3.569e-6},
      {"id": "upper", "ord": 2, "t": "2026-05-29T02:00:00Z", "v": 5.088e-6},
      {"id": "lower", "ord": 1, "t": "2026-03-31T01:00:00Z", "v": 3.177e-6},
      {"id": "lower", "ord": 2, "t": "2026-07-04T19:00:00Z", "v": 5.161e-6},
      {"id": "shaft", "ord": 1, "t": "2026-05-08T23:00:00Z", "v": 4.146e-6},
      {"id": "shaft", "ord": 2, "t": "2026-05-13T23:30:00Z", "v": 4.438e-6},
      {"id": "head", "ord": 1, "t": "2026-05-10T20:00:00Z", "v": 4.418e-6},
      {"id": "head", "ord": 2, "t": "2026-05-13T23:30:00Z", "v": 4.438e-6},
      {"id": "head", "ord": 3, "t": "2026-05-14T10:00:00Z", "v": 4.309e-6}
    ],
    "labels": [
      {"name": "Upper level", "v": 5.062e-6},
      {"name": "Target", "v": 5.053e-6},
      {"name": "Lower level", "v": 4.479e-6},
      {"name": "Entry", "v": 4.125e-6},
      {"name": "Price", "v": 4.105e-6},
      {"name": "Lagging Span", "v": 4.105e-6},
      {"name": "Conversion Line", "v": 4.04e-6},
      {"name": "Leading Span A", "v": 3.95e-6},
      {"name": "Leading Span B", "v": 3.762e-6}
    ]
  },
  "layer": [
    {
      "layer": [
        {
          "data": {"values": [{}]},
          "mark": {"type": "rect", "color": "#1e222d"},
          "encoding": {
            "x": {"datum": {"year": 2025, "month": 10, "date": 20, "utc": true}, "type": "temporal"},
            "x2": {"datum": {"year": 2025, "month": 11, "date": 6, "utc": true}},
            "y": {"datum": 1.0438e-6, "type": "quantitative"},
            "y2": {"datum": 7.394e-6}
          }
        },
        {
          "data": {"values": [{}]},
          "mark": {"type": "rect", "color": "#1e222d"},
          "encoding": {
            "x": {"datum": {"year": 2026, "month": 11, "date": 18, "hours": 13, "minutes": 26, "utc": true}, "type": "temporal"},
            "x2": {"datum": {"year": 2026, "month": 12, "date": 10, "utc": true}},
            "y": {"datum": 1.0438e-6, "type": "quantitative"},
            "y2": {"datum": 7.394e-6}
          }
        },
        {
          "data": {"values": [{}]},
          "mark": {"type": "rect", "color": "#1e222d"},
          "encoding": {
            "x": {"datum": {"year": 2025, "month": 10, "date": 20, "utc": true}, "type": "temporal"},
            "x2": {"datum": {"year": 2026, "month": 12, "date": 10, "utc": true}},
            "y": {"datum": 7.394e-6, "type": "quantitative"},
            "y2": {"datum": 7.8e-6}
          }
        },
        {
          "data": {"values": [{}]},
          "mark": {"type": "rect", "color": "#1e222d"},
          "encoding": {
            "x": {"datum": {"year": 2025, "month": 10, "date": 20, "utc": true}, "type": "temporal"},
            "x2": {"datum": {"year": 2026, "month": 12, "date": 10, "utc": true}},
            "y": {"datum": 0, "type": "quantitative"},
            "y2": {"datum": 1.0438e-6}
          }
        },
        {
          "data": {"name": "cloud"},
          "mark": {"type": "area", "opacity": 0.12, "clip": true},
          "encoding": {
            "x": {"field": "t", "type": "temporal"},
            "y": {"field": "a", "type": "quantitative"},
            "y2": {"field": "b"},
            "color": {"field": "s", "type": "nominal", "scale": {"domain": ["r1", "g1", "r2", "g2"], "range": ["#f23645", "#43a047", "#f23645", "#43a047"]}, "legend": null}
          }
        },
        {
          "data": {"name": "position"},
          "mark": {"type": "rect", "color": "#089981", "opacity": 0.2},
          "encoding": {
            "x": {"field": "from", "type": "temporal"},
            "x2": {"field": "to"},
            "y": {"field": "entry", "type": "quantitative"},
            "y2": {"field": "target"}
          }
        },
        {
          "data": {"name": "position"},
          "mark": {"type": "rect", "color": "#f23645", "opacity": 0.2},
          "encoding": {
            "x": {"field": "from", "type": "temporal"},
            "x2": {"field": "to"},
            "y": {"field": "stop", "type": "quantitative"},
            "y2": {"field": "entry"}
          }
        },
        {
          "data": {"name": "position"},
          "mark": {"type": "rule", "color": "#787b86", "strokeWidth": 2},
          "encoding": {
            "x": {"field": "from", "type": "temporal"},
            "x2": {"field": "to"},
            "y": {"field": "entry", "type": "quantitative"}
          }
        },
        {
          "data": {"name": "levels"},
          "mark": {"type": "rule", "color": "#f57f17", "strokeWidth": 2},
          "encoding": {"y": {"field": "v", "type": "quantitative"}}
        },
        {
          "data": {"name": "last"},
          "mark": {"type": "rule", "color": "#22ab94", "strokeWidth": 2, "strokeDash": [2, 4]},
          "encoding": {"y": {"field": "v", "type": "quantitative"}}
        },
        {
          "data": {"name": "bars"},
          "mark": {"type": "rule", "strokeWidth": 1.2, "clip": true},
          "encoding": {
            "x": {
              "field": "t", "type": "temporal",
              "scale": {"type": "utc", "nice": false, "domain": [{"year": 2025, "month": 11, "date": 6, "utc": true}, {"year": 2026, "month": 10, "date": 9, "hours": 7, "utc": true}]},
              "axis": {
                "title": null,
                "values": [
                  {"year": 2025, "month": 11, "date": 6, "utc": true},
                  {"year": 2026, "month": 1, "date": 1, "utc": true},
                  {"year": 2026, "month": 3, "date": 1, "utc": true},
                  {"year": 2026, "month": 5, "date": 1, "utc": true},
                  {"year": 2026, "month": 7, "date": 1, "utc": true},
                  {"year": 2026, "month": 9, "date": 1, "utc": true}
                ],
                "labelExpr": "utcmonth(datum.value) === 0 ? utcFormat(datum.value, '%Y') : utcmonth(datum.value) === 10 ? '' + utcdate(datum.value) : utcFormat(datum.value, '%B')",
                "labelFontWeight": {"condition": {"test": "utcmonth(datum.value) === 0", "value": "bold"}, "value": "normal"},
                "labelAlign": {"condition": {"test": "utcmonth(datum.value) === 10", "value": "left"}, "value": "center"},
                "labelFlush": false,
                "labelOverlap": false,
                "labelPadding": 37,
                "labelBaseline": "middle",
                "labelColor": "#b2b5be",
                "labelFontSize": 31,
                "labelFont": "Roboto",
                "grid": true,
                "gridColor": "#232632",
                "domain": false,
                "ticks": false,
                "tickSize": 0
              }
            },
            "y": {
              "field": "l", "type": "quantitative",
              "scale": {"domain": [1.5693e-6, 7.394e-6], "nice": false, "zero": false},
              "axis": {
                "title": null,
                "orient": "right",
                "values": [2e-6, 3e-6, 4e-6, 5e-6, 6e-6, 7e-6],
                "format": ".9f",
                "labelExpr": "datum.value > 3.5e-6 && datum.value < 5.5e-6 ? '' : datum.label",
                "labelAlign": "right",
                "labelBaseline": "middle",
                "labelPadding": 210,
                "labelLimit": 400,
                "labelColor": "#b2b5be",
                "labelFontSize": 31,
                "labelFont": "Roboto",
                "labelOverlap": false,
                "grid": true,
                "gridColor": "#232632",
                "domain": false,
                "ticks": false,
                "tickSize": 0
              }
            },
            "y2": {"field": "h"},
            "color": {"condition": {"test": "datum.c >= datum.o", "value": "#26a69a"}, "value": "#ef5350"}
          }
        },
        {
          "data": {"name": "bars"},
          "mark": {"type": "bar", "width": 4, "clip": true},
          "encoding": {
            "x": {"field": "t", "type": "temporal"},
            "y": {"field": "o", "type": "quantitative"},
            "y2": {"field": "c"},
            "color": {"condition": {"test": "datum.c >= datum.o", "value": "#26a69a"}, "value": "#ef5350"}
          }
        },
        {
          "data": {"name": "bars"},
          "mark": {"type": "line", "color": "#43a047", "strokeWidth": 2, "clip": true},
          "encoding": {
            "x": {"field": "t", "type": "temporal"},
            "y": {"field": "g", "type": "quantitative"}
          }
        },
        {
          "data": {"name": "cloud"},
          "mark": {"type": "line", "color": "#a5d6a7", "strokeWidth": 2, "clip": true},
          "encoding": {
            "x": {"field": "t", "type": "temporal"},
            "y": {"field": "a", "type": "quantitative"}
          }
        },
        {
          "data": {"name": "bars"},
          "mark": {"type": "line", "color": "#2196f3", "strokeWidth": 2, "clip": true},
          "encoding": {
            "x": {"field": "t", "type": "temporal"},
            "y": {"field": "k", "type": "quantitative"}
          }
        },
        {
          "data": {"name": "drawings"},
          "mark": {"type": "line", "color": "#2962ff", "strokeWidth": 2, "clip": true},
          "encoding": {
            "x": {"field": "t", "type": "temporal"},
            "y": {"field": "v", "type": "quantitative"},
            "detail": {"field": "id"},
            "order": {"field": "ord"}
          }
        },
        {
          "data": {"values": [{}]},
          "mark": {"type": "text", "text": "PEPE, 1D", "align": "left", "baseline": "middle", "fontSize": 31, "color": "#b2b5be"},
          "encoding": {
            "x": {"datum": {"year": 2025, "month": 11, "date": 8, "hours": 22, "utc": true}, "type": "temporal"},
            "y": {"datum": 7.09e-6, "type": "quantitative"}
          }
        },
        {
          "data": {"values": [{}]},
          "mark": {"type": "text", "text": "0.000004105 −0.000000051 (−1.22%)", "align": "left", "baseline": "middle", "fontSize": 31, "color": "#22ab94"},
          "encoding": {
            "x": {"datum": {"year": 2025, "month": 12, "date": 3, "hours": 0, "utc": true}, "type": "temporal"},
            "y": {"datum": 7.09e-6, "type": "quantitative"}
          }
        },
        {
          "data": {"values": [{}]},
          "mark": {"type": "text", "text": "Ichimoku (9, 26, 52, 26)", "align": "left", "baseline": "middle", "fontSize": 31, "color": "#b2b5be"},
          "encoding": {
            "x": {"datum": {"year": 2025, "month": 11, "date": 8, "hours": 22, "utc": true}, "type": "temporal"},
            "y": {"datum": 6.774e-6, "type": "quantitative"}
          }
        },
        {
          "data": {"values": [{}]},
          "mark": {"type": "text", "text": "سیگنال", "align": "left", "baseline": "middle", "fontSize": 35, "fontWeight": "bold", "font": "DejaVu Sans", "color": "#ffffff"},
          "encoding": {
            "x": {"datum": {"year": 2025, "month": 11, "date": 5, "hours": 16, "utc": true}, "type": "temporal"},
            "y": {"datum": 0.737e-6, "type": "quantitative"}
          }
        },
        {
          "data": {"values": [{}]},
          "mark": {"type": "text", "text": "Signal Financial", "align": "left", "baseline": "middle", "fontSize": 16, "color": "#e1e3ea"},
          "encoding": {
            "x": {"datum": {"year": 2025, "month": 11, "date": 5, "hours": 16, "utc": true}, "type": "temporal"},
            "y": {"datum": 0.4854e-6, "type": "quantitative"}
          }
        },
        {
          "data": {"values": [{}]},
          "mark": {"type": "point", "shape": "M-1,-0.17 L-0.6,-0.63 L0.59,-0.63 L0.99,-0.31 L-0.02,0.63 Z", "size": 8464, "filled": true, "color": "#0e8a76", "opacity": 1},
          "encoding": {
            "x": {"datum": {"year": 2025, "month": 12, "date": 7, "hours": 1, "utc": true}, "type": "temporal"},
            "y": {"datum": 0.646e-6, "type": "quantitative"}
          }
        },
        {
          "data": {"values": [{}]},
          "mark": {"type": "point", "shape": "M0.62,-0.42 L-0.46,-0.42 L-0.72,-0.17 L-0.46,0.08 L0.52,0.08 L0.08,0.48", "size": 8464, "filled": false, "stroke": "#1e222d", "strokeWidth": 4, "opacity": 1},
          "encoding": {
            "x": {"datum": {"year": 2025, "month": 12, "date": 7, "hours": 1, "utc": true}, "type": "temporal"},
            "y": {"datum": 0.646e-6, "type": "quantitative"}
          }
        },
        {
          "data": {"values": [{}]},
          "mark": {"type": "text", "text": "۷", "align": "center", "baseline": "middle", "fontSize": 24, "font": "DejaVu Sans", "color": "#c0c3cc"},
          "encoding": {
            "x": {"datum": {"year": 2025, "month": 12, "date": 16, "hours": 14, "utc": true}, "type": "temporal"},
            "y": {"datum": 0.679e-6, "type": "quantitative"}
          }
        }
      ]
    },
    {
      "data": {"name": "labels"},
      "encoding": {
        "y": {"field": "name", "type": "nominal", "sort": null, "scale": {"type": "band", "range": [204, 606], "paddingInner": 0.03, "paddingOuter": 0}, "axis": null}
      },
      "layer": [
        {
          "mark": {"type": "rect", "cornerRadiusTopRight": 4, "cornerRadiusBottomRight": 4},
          "encoding": {
            "x": {"datum": {"year": 2026, "month": 10, "date": 9, "hours": 7, "utc": true}, "type": "temporal"},
            "x2": {"datum": {"year": 2026, "month": 11, "date": 16, "hours": 12, "utc": true}},
            "color": {
              "field": "name", "type": "nominal", "legend": null,
              "scale": {
                "domain": ["Upper level", "Target", "Lower level", "Entry", "Price", "Lagging Span", "Conversion Line", "Leading Span A", "Leading Span B"],
                "range": ["#f57f17", "#089981", "#f57f17", "#787b86", "#26a69a", "#43a047", "#2196f3", "#a5d6a7", "#f23645"]
              }
            }
          }
        },
        {
          "mark": {"type": "text", "align": "right", "baseline": "middle", "fontSize": 31},
          "encoding": {
            "x": {"datum": {"year": 2026, "month": 11, "date": 13, "hours": 17, "utc": true}, "type": "temporal"},
            "text": {"field": "v", "type": "quantitative", "format": ".9f"},
            "color": {"condition": {"test": "datum.name === 'Leading Span A'", "value": "#131722"}, "value": "#ffffff"}
          }
        }
      ]
    }
  ],
  "resolve": {"scale": {"y": "independent", "color": "independent"}}
}
